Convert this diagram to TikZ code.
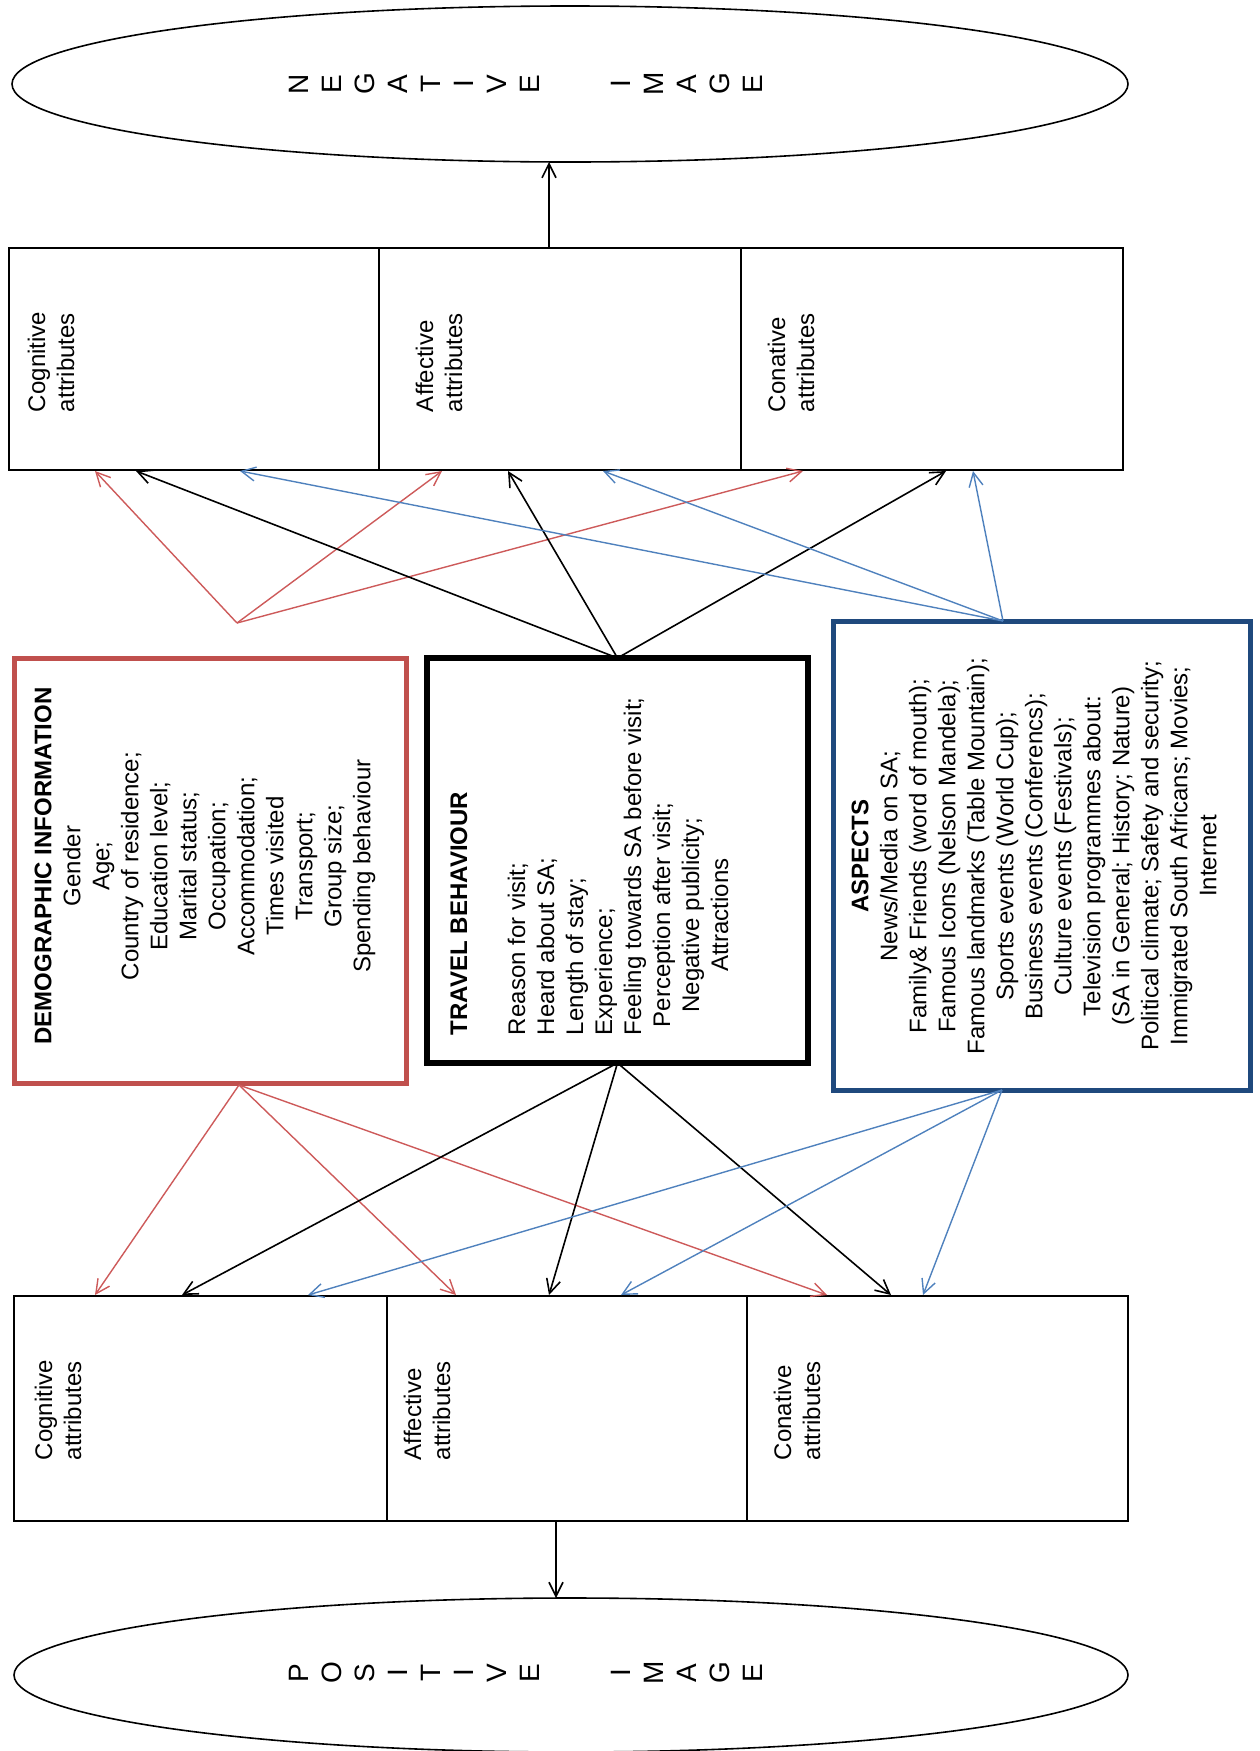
\documentclass[tikz,border=0pt]{standalone}
\usepackage{fontspec}
\setmainfont{Liberation Sans}
\usetikzlibrary{arrows.meta,shapes.geometric}
\definecolor{demored}{RGB}{192,80,77}
\definecolor{aspblue}{RGB}{31,73,125}
\definecolor{arrred}{RGB}{205,90,90}
\definecolor{arrblue}{RGB}{79,129,189}

\begin{document}
\begin{tikzpicture}[x=0.5pt,y=-0.5pt,
  every node/.style={font=\fontsize{12}{14.5}\selectfont, inner sep=0pt, outer sep=0pt},
  image/.style={draw, ellipse, line width=0.8pt},
  spaced/.style={rotate=90, align=center, font=\fontsize{14}{16.5}\selectfont},
  cell/.style={draw, line width=0.8pt, anchor=north west},
  celltext/.style={rotate=90, align=left, anchor=west},
  infobox/.style={draw, rectangle, anchor=north west},
  infotext/.style={rotate=90, align=center},
  tip/.style={-{Straight Barb[length=7pt,width=7pt]}},
  redarrow/.style={tip, draw=arrred, line width=0.7pt},
  bluearrow/.style={tip, draw=arrblue, line width=0.7pt},
  blackarrow/.style={tip, draw=black, line width=0.8pt}
]
\useasboundingbox (0,0) rectangle (1259,1751);

% ---- negative image (top) ----
\node[image, minimum width=558pt, minimum height=78pt] (neg) at (570,84) {};
\node[spaced] (negA) at (414,84) {N\\E\\G\\A\\T\\I\\V\\E};
\node[spaced] (negB) at (687,84) {I\\M\\A\\G\\E};

% ---- attribute cells, negative side ----
\node[cell, minimum width=185pt, minimum height=111pt] (cogN) at (9,248) {};
\node[cell, minimum width=181pt, minimum height=111pt] (affN) at (379,248) {};
\node[cell, minimum width=191pt, minimum height=111pt] (conN) at (741,248) {};
\node[celltext] (cogNt) at (51,412) {Cognitive\\attributes};
\node[celltext] (affNt) at (439,412) {Affective\\attributes};
\node[celltext] (conNt) at (791,412) {Conative\\attributes};

% ---- attribute cells, positive side ----
\node[cell, minimum width=186.5pt, minimum height=112.5pt] (cogP) at (14,1296) {};
\node[cell, minimum width=180pt, minimum height=112.5pt] (affP) at (387,1296) {};
\node[cell, minimum width=190.5pt, minimum height=112.5pt] (conP) at (747,1296) {};
\node[celltext] (cogPt) at (58,1460) {Cognitive\\attributes};
\node[celltext] (affPt) at (427,1460) {Affective\\attributes};
\node[celltext] (conPt) at (797,1460) {Conative\\attributes};

% ---- positive image (bottom) ----
\node[image, minimum width=557pt, minimum height=77pt] (pos) at (571,1675) {};
\node[spaced] (posA) at (414,1673) {P\\O\\S\\I\\T\\I\\V\\E};
\node[spaced] (posB) at (687,1673) {I\\M\\A\\G\\E};

% ---- the three groups of factors ----
\node[infobox, draw=demored, line width=2.5pt, minimum width=196pt, minimum height=212.5pt] (demo) at (14,658) {};
\node[infotext] (demot) at (205,866) {\textbf{DEMOGRAPHIC INFORMATION}\\Gender\\Age;\\Country of residence;\\Education level;\\Marital status;\\Occupation;\\Accommodation;\\Times visited\\Transport;\\Group size;\\Spending behaviour};

\node[infobox, draw=black, line width=3pt, minimum width=190.5pt, minimum height=202.5pt] (travel) at (427,658) {};
\node[rotate=90, align=left, anchor=base west] (travelt) at (641,1035) {\textbf{TRAVEL BEHAVIOUR}\\[14.5pt]Reason for visit;\\Heard about SA;\\Length of stay;\\Experience;\\Feeling towards SA before visit;};
\node[rotate=90, align=center, anchor=base] (travelu) at (728,915) {Perception after visit;\\Negative publicity;\\Attractions};

\node[infobox, draw=aspblue, line width=2.5pt, minimum width=208.5pt, minimum height=234.5pt] (aspects) at (833,621) {};
\node[infotext] (aspectst) at (1034,856) {\textbf{ASPECTS}\\News/Media on SA;\\Family\& Friends (word of mouth);\\Famous Icons (Nelson Mandela);\\Famous landmarks (Table Mountain);\\Sports events (World Cup);\\Business events (Conferencs);\\Culture events (Festivals);\\Television programmes about:\\(SA in General; History; Nature)\\Political climate; Safety and security;\\Immigrated South Africans; Movies;\\Internet};

% ---- arrow start points ----
\coordinate (demoUp) at (237,623);
\coordinate (demoDown) at (239,1085);
\coordinate (aspUp) at (1003,621);
\coordinate (aspDown) at (1002,1090);

% ---- arrow end points on the negative cells ----
\coordinate (nR1) at (95,471);   \coordinate (nR2) at (442,471);  \coordinate (nR3) at (803,471);
\coordinate (nK1) at (136,471);  \coordinate (nK2) at (508,471);  \coordinate (nK3) at (946,471);
\coordinate (nB1) at (240,471);  \coordinate (nB2) at (603,471);  \coordinate (nB3) at (973,471);
% ---- arrow end points on the positive cells ----
\coordinate (pR1) at (95,1295);  \coordinate (pR2) at (456,1295); \coordinate (pR3) at (827,1295);
\coordinate (pK1) at (182,1295); \coordinate (pK2) at (549,1295); \coordinate (pK3) at (891,1295);
\coordinate (pB1) at (308,1295); \coordinate (pB2) at (621,1295); \coordinate (pB3) at (923,1295);

% ---- influence arrows towards the negative image ----
\draw[redarrow] (demoUp) -- (nR1);
\draw[redarrow] (demoUp) -- (nR2);
\draw[redarrow] (demoUp) -- (nR3);
\draw[blackarrow] (travel.north) -- (nK1);
\draw[blackarrow] (travel.north) -- (nK2);
\draw[blackarrow] (travel.north) -- (nK3);
\draw[bluearrow] (aspUp) -- (nB1);
\draw[bluearrow] (aspUp) -- (nB2);
\draw[bluearrow] (aspUp) -- (nB3);

% ---- influence arrows towards the positive image ----
\draw[redarrow] (demoDown) -- (pR1);
\draw[redarrow] (demoDown) -- (pR2);
\draw[redarrow] (demoDown) -- (pR3);
\draw[blackarrow] (travel.south) -- (pK1);
\draw[blackarrow] (travel.south) -- (pK2);
\draw[blackarrow] (travel.south) -- (pK3);
\draw[bluearrow] (aspDown) -- (pB1);
\draw[bluearrow] (aspDown) -- (pB2);
\draw[bluearrow] (aspDown) -- (pB3);

% ---- links to the two images ----
\draw[blackarrow] ([xshift=-5.5pt]affN.north) -- ([xshift=-5.5pt]affN.north |- neg.south);
\draw[blackarrow] ([xshift=-5.5pt]affP.south) -- ([xshift=-5.5pt]affP.south |- pos.north);
\end{tikzpicture}
\end{document}
